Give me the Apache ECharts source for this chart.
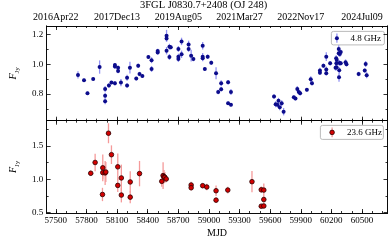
<!DOCTYPE html>
<html>
<head>
<meta charset="utf-8">
<script src="https://cdn.jsdelivr.net/npm/echarts@6/dist/echarts.min.js"></script>
<style>html,body{margin:0;padding:0;background:#fff}#c{width:389px;height:241px}</style>
</head>
<body>
<div id="c"></div>
<script>
// ---- data: 4.8 GHz (top panel) ----
const mjd48 = [57717,57776,57810,57866,57929,57983,57983,57983,58020,58045,58079,58079,58079,58110,58110,58138,58198,58198,58226,58288,58307,58320,58348,58407,58438,58438,58498,58498,58585,58585,58585,58613,58613,58626,58701,58701,58701,58732,58732,58801,58801,58826,58848,58939,58939,58939,58960,58988,59023,59070,59091,59120,59120,59188,59188,59216,59216,59638,59654,59670,59682,59694,59713,59732,59832,59848,59866,59881,59894,59960,59998,60010,60088,60088,60122,60150,60150,60150,60188,60241,60247,60249,60251,60253,60272,60272,60275,60277,60279,60283,60292,60292,60339,60348,60467,60527,60536,60546];
const flux48 = [0.929,0.893,0.805,0.902,0.982,0.834,0.789,0.751,0.857,0.877,0.873,0.995,0.985,0.978,0.956,0.877,0.857,0.910,0.978,0.904,0.991,0.935,0.922,1.050,0.969,1.028,1.081,1.090,1.193,1.175,1.092,1.119,1.050,1.115,1.052,1.104,1.036,1.155,1.068,1.135,1.104,1.059,1.036,1.126,1.052,1.041,0.969,1.052,1.011,0.940,0.814,0.873,0.832,0.879,0.738,0.814,0.727,0.783,0.731,0.727,0.754,0.711,0.738,0.681,0.778,0.769,0.834,0.814,0.805,0.828,0.900,0.873,0.958,0.944,0.991,1.052,0.966,0.940,1.007,0.978,1.041,1.007,0.980,1.030,1.104,1.075,0.913,0.960,1.010,1.070,1.084,1.007,1.014,1.001,0.935,0.958,1.003,0.927];
const err48 = [0.025,0.012,0.012,0.010,0.045,0.020,0.020,0.020,0.015,0.012,0.015,0.015,0.015,0.015,0.015,0.025,0.015,0.020,0.040,0.012,0.015,0.015,0.012,0.012,0.020,0.020,0.015,0.015,0.040,0.020,0.025,0.020,0.020,0.015,0.020,0.020,0.020,0.025,0.025,0.025,0.020,0.040,0.015,0.025,0.025,0.020,0.012,0.015,0.015,0.040,0.015,0.020,0.015,0.015,0.012,0.020,0.012,0.015,0.020,0.015,0.020,0.020,0.020,0.025,0.012,0.012,0.020,0.015,0.015,0.012,0.020,0.015,0.020,0.015,0.015,0.030,0.020,0.015,0.015,0.020,0.020,0.020,0.020,0.020,0.025,0.020,0.030,0.020,0.020,0.020,0.015,0.015,0.020,0.015,0.015,0.015,0.020,0.020];

// ---- data: 23.6 GHz (bottom panel) ----
const mjd236 = [57842,57885,57957,57960,57960,57983,57990,58016,58045,58107,58107,58142,58142,58229,58229,58320,58538,58551,58560,58568,58582,58826,58826,58939,58979,59070,59070,59185,59422,59513,59513,59538,59538,59538];
const flux236 = [1.091,1.253,0.773,1.173,1.101,1.097,1.110,1.692,1.370,1.188,0.909,1.021,0.764,0.961,0.733,1.086,0.970,1.056,1.040,1.030,1.006,0.915,0.874,0.905,0.885,0.829,0.688,0.839,0.965,0.844,0.597,0.839,0.697,0.601];
const err236 = [0.04,0.13,0.10,0.20,0.10,0.18,0.15,0.15,0.14,0.20,0.10,0.20,0.11,0.16,0.09,0.19,0.08,0.20,0.10,0.08,0.05,0.05,0.04,0.04,0.05,0.08,0.04,0.05,0.16,0.05,0.03,0.10,0.05,0.04];

// ---- ticks and labels ----
const mjdTicks = [57500,57800,58100,58400,58700,59000,59300,59600,59900,60200,60500];
const dateTicks = [57500,58100,58700,59300,59900,60500];
const dateLabels = ['2016Apr22','2017Dec13','2019Aug05','2021Mar27','2022Nov17','2024Jul09'];
const yTopTicks = [0.8,1.0,1.2];
const yTopMinor = [0.7,0.9,1.1];
const yBotTicks = [0.5,1.0,1.5];
const yBotMinor = [0.75,1.25,1.75];
const titleText = '3FGL J0830.7+2408 (OJ 248)';
const legendTop = '4.8 GHz';
const legendBot = '23.6 GHz';

const xMin = 57410, xMax = 60750;
const yTopRange = [0.62, 1.259];
const yBotRange = [0.495, 1.88];
const minorX = [];
for (let v = 57500; v <= xMax; v += 100) minorX.push(v);

const FONT = 'Liberation Serif';
const axisCol = '#000';

function xAx(grid, pos, ticks, len, label) {
  return {
    type: 'value', gridIndex: grid, position: pos, min: xMin, max: xMax,
    axisLine: {show: true, onZero: false, lineStyle: {color: axisCol, width: 0.8}},
    axisTick: {show: true, inside: true, length: len, customValues: ticks, lineStyle: {color: axisCol, width: 0.8}},
    axisLabel: label || {show: false},
    splitLine: {show: false}
  };
}
function yAx(grid, pos, range, ticks, len, label, name) {
  const a = {
    type: 'value', gridIndex: grid, position: pos, min: range[0], max: range[1],
    axisLine: {show: true, onZero: false, lineStyle: {color: axisCol, width: 0.8}},
    axisTick: {show: true, inside: true, length: len, customValues: ticks, lineStyle: {color: axisCol, width: 0.8}},
    axisLabel: label || {show: false},
    splitLine: {show: false}
  };
  if (name) {
    a.name = '{i|F}{s|Jy}';
    a.nameLocation = 'middle';
    a.nameGap = 19;
    a.nameTextStyle = {
      rich: {
        i: {fontFamily: FONT, fontStyle: 'italic', fontSize: 10, color: '#000', lineHeight: 16, verticalAlign: 'middle'},
        s: {fontFamily: FONT, fontSize: 7, color: '#000', lineHeight: 9, verticalAlign: 'bottom'}
      }
    };
  }
  return a;
}
const numLabel = (vals, fmt) => ({show: true, customValues: vals, fontFamily: FONT, fontSize: 9, color: '#000', margin: 3.5, formatter: fmt});

function errRender(color) {
  return function (params, api) {
    const x = api.value(0), y = api.value(1), e = api.value(2);
    const p1 = api.coord([x, y - e]), p2 = api.coord([x, y + e]);
    return {type: 'line', shape: {x1: p1[0], y1: p1[1], x2: p2[0], y2: p2[1]}, style: {stroke: color, lineWidth: 1.3}};
  };
}

const top3 = mjd48.map((m, i) => [m, flux48[i], err48[i]]);
const bot3 = mjd236.map((m, i) => [m, flux236[i], err236[i]]);

const chart = echarts.init(document.getElementById('c'), null, {renderer: 'canvas'});
chart.setOption({
  animation: false,
  backgroundColor: '#fff',
  textStyle: {fontFamily: FONT},
  title: {text: titleText, left: 140, top: 0, padding: 0, textStyle: {fontFamily: FONT, fontSize: 10.5, fontWeight: 'normal', color: '#000'}},
  grid: [
    {left: 31.7, right: 1.5, top: 26, height: 94.7},
    {left: 31.7, right: 1.5, top: 120.7, height: 92.3}
  ],
  xAxis: [
    xAx(0, 'bottom', dateTicks, 4),
    xAx(0, 'bottom', minorX, 2),
    xAx(0, 'top', dateTicks, 4, {show: true, customValues: dateTicks, fontFamily: FONT, fontSize: 10, color: '#000', margin: 3.5,
      formatter: v => dateLabels[dateTicks.indexOf(Math.round(v))] || ''}),
    xAx(0, 'top', minorX, 2),
    Object.assign(xAx(1, 'bottom', mjdTicks, 4, numLabel(mjdTicks, v => String(Math.round(v)))),
      {name: 'MJD', nameLocation: 'middle', nameGap: 15, nameTextStyle: {fontFamily: FONT, fontSize: 10, color: '#000'}}),
    xAx(1, 'bottom', minorX, 2),
    xAx(1, 'top', dateTicks, 4),
    xAx(1, 'top', minorX, 2)
  ],
  yAxis: [
    yAx(0, 'left', yTopRange, yTopTicks, 4, numLabel(yTopTicks, v => v.toFixed(1)), true),
    yAx(0, 'left', yTopRange, yTopMinor, 2),
    yAx(0, 'right', yTopRange, yTopTicks, 4),
    yAx(0, 'right', yTopRange, yTopMinor, 2),
    yAx(1, 'left', yBotRange, yBotTicks, 4, numLabel(yBotTicks, v => v.toFixed(1)), true),
    yAx(1, 'left', yBotRange, yBotMinor, 2),
    yAx(1, 'right', yBotRange, yBotTicks, 4),
    yAx(1, 'right', yBotRange, yBotMinor, 2)
  ],
  series: [
    {type: 'custom', name: legendTop + ' err', xAxisIndex: 0, yAxisIndex: 0, data: top3, encode: {x: 0, y: 1}, renderItem: errRender('#9494f4'), z: 1, silent: true},
    {type: 'scatter', name: legendTop, xAxisIndex: 0, yAxisIndex: 0, data: top3.map(d => [d[0], d[1]]), symbol: 'circle', symbolSize: 4,
      itemStyle: {color: '#0c0c8c', opacity: 1}, z: 2, silent: true},
    {type: 'custom', name: legendBot + ' err', xAxisIndex: 4, yAxisIndex: 4, data: bot3, encode: {x: 0, y: 1}, renderItem: errRender('#f59a9a'), z: 1, silent: true},
    {type: 'scatter', name: legendBot, xAxisIndex: 4, yAxisIndex: 4, data: bot3.map(d => [d[0], d[1]]), symbol: 'circle', symbolSize: 4.6,
      itemStyle: {color: '#d40000', borderColor: '#2a0000', borderWidth: 0.8, opacity: 1}, z: 2, silent: true}
  ],
  graphic: [
    {type: 'group', left: 331, top: 31, children: [
      {type: 'rect', shape: {x: 0, y: 0, width: 53, height: 13.5, r: 2}, style: {fill: '#fff', stroke: '#aaa', lineWidth: 0.8}},
      {type: 'line', shape: {x1: 5.5, y1: 2.2, x2: 5.5, y2: 11.3}, style: {stroke: '#9494f4', lineWidth: 1.3}},
      {type: 'circle', shape: {cx: 5.5, cy: 6.75, r: 2}, style: {fill: '#0c0c8c'}},
      {type: 'text', x: 19, y: 6.9, style: {text: legendTop, font: '9px "Liberation Serif"', fill: '#000', verticalAlign: 'middle'}}
    ]},
    {type: 'group', left: 320, top: 125, children: [
      {type: 'rect', shape: {x: 0, y: 0, width: 63, height: 14, r: 2}, style: {fill: '#fff', stroke: '#aaa', lineWidth: 0.8}},
      {type: 'line', shape: {x1: 11.7, y1: 2.2, x2: 11.7, y2: 11.8}, style: {stroke: '#f59a9a', lineWidth: 1.3}},
      {type: 'circle', shape: {cx: 11.7, cy: 7, r: 2.3}, style: {fill: '#d40000', stroke: '#2a0000', lineWidth: 0.8}},
      {type: 'text', x: 26.5, y: 7.1, style: {text: legendBot, font: '9px "Liberation Serif"', fill: '#000', verticalAlign: 'middle'}}
    ]}
  ]
});
</script>
</body>
</html>
